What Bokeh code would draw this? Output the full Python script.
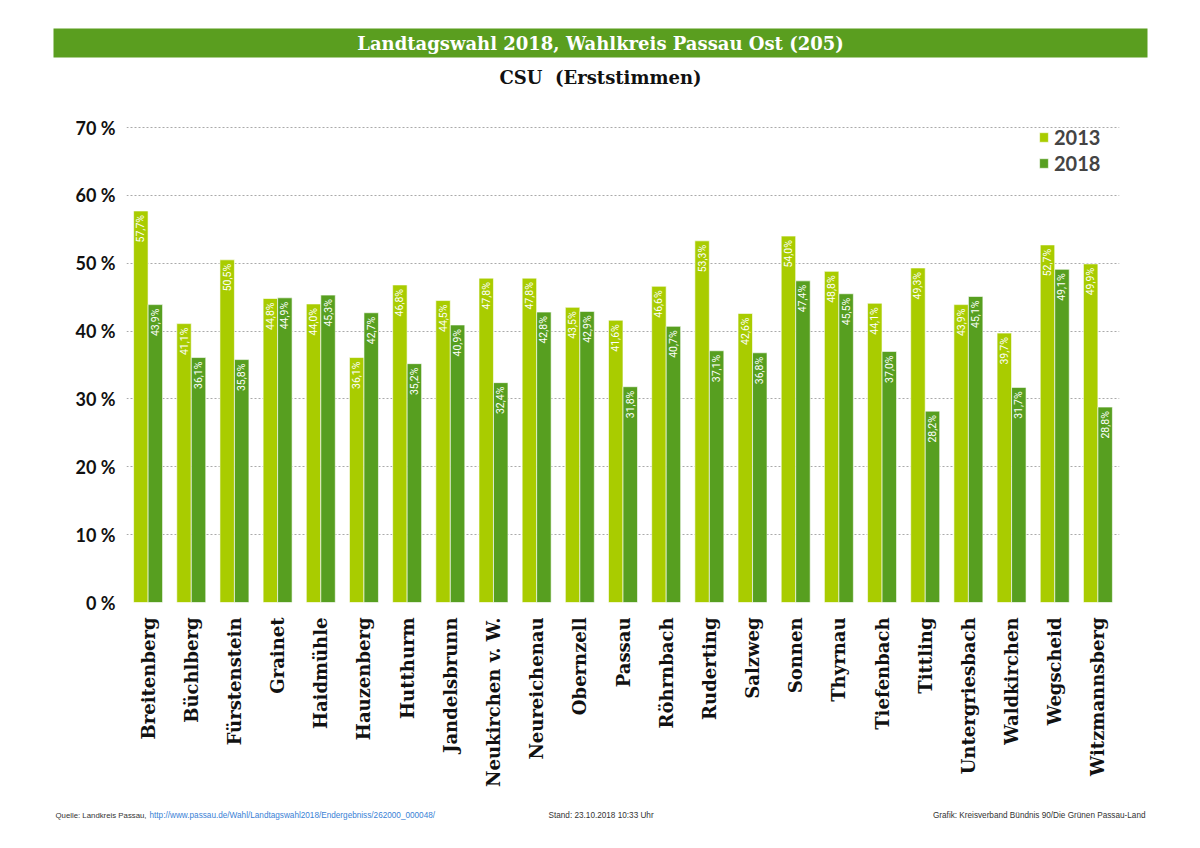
from math import pi
from bokeh.plotting import figure
from bokeh.layouts import column
from bokeh.models import (FactorRange, Range1d, FixedTicker, Legend, LegendItem, ColumnDataSource)
from bokeh.transform import dodge
from bokeh.core.properties import value
from bokeh.embed import file_html
from bokeh.resources import INLINE

places = ["Breitenberg", "Büchlberg", "Fürstenstein", "Grainet", "Haidmühle",
          "Hauzenberg", "Hutthurm", "Jandelsbrunn", "Neukirchen v. W.", "Neureichenau",
          "Obernzell", "Passau", "Röhrnbach", "Ruderting", "Salzweg", "Sonnen",
          "Thyrnau", "Tiefenbach", "Tittling", "Untergriesbach", "Waldkirchen",
          "Wegscheid", "Witzmannsberg"]
v2013 = [57.7, 41.1, 50.5, 44.8, 44.0, 36.1, 46.8, 44.5, 47.8, 47.8, 43.5, 41.6,
         46.6, 53.3, 42.6, 54.0, 48.8, 44.1, 49.3, 43.9, 39.7, 52.7, 49.9]
v2018 = [43.9, 36.1, 35.8, 44.9, 45.3, 42.7, 35.2, 40.9, 32.4, 42.8, 42.9, 31.8,
         40.7, 37.1, 36.8, 47.4, 45.5, 37.0, 28.2, 45.1, 31.7, 49.1, 28.8]
years = ["2013", "2018"]
y_ticks = [0, 10, 20, 30, 40, 50, 60, 70]
y_tick_labels = ["0 %", "10 %", "20 %", "30 %", "40 %", "50 %", "60 %", "70 %"]

title_text = "Landtagswahl 2018, Wahlkreis Passau Ost (205)"
subtitle_text = "CSU\u00a0 (Erststimmen)"
source_text = "Quelle: Landkreis Passau, "
source_link = "http://www.passau.de/Wahl/Landtagswahl2018/Endergebniss/262000_000048/"
stand_text = "Stand: 23.10.2018 10:33 Uhr"
credit_text = "Grafik: Kreisverband Bündnis 90/Die Grünen Passau-Land"

C13 = "#a9cc00"
C18 = "#579f20"
TITLE_BG = "#5a9e1f"
SANS = "Lato"
SERIF = "DejaVu Serif"
W = 1190


def fmt(v):
    return f"{v:.1f}".replace(".", ",") + "%"


def no_align(f):
    try:
        f.frame_align = False
    except Exception:
        pass


def blank(h, y0, y1):
    f = figure(width=W, height=h, x_range=Range1d(0, W), y_range=Range1d(y1, y0),
               output_backend="svg", toolbar_location=None, min_border=0)
    f.axis.visible = False
    f.grid.visible = False
    f.outline_line_color = None
    no_align(f)
    return f


# ---- header ----
head = blank(100, 0, 100)
head.quad(left=[53], right=[1147], top=[28], bottom=[57], fill_color=TITLE_BG, line_color=None)
head.text(x=[600], y=[43], text=[title_text], text_align="center", text_baseline="middle",
          text_color="white", text_font=value(SERIF), text_font_style="bold",
          text_font_size="18px")
head.text(x=[600], y=[77], text=[subtitle_text], text_align="center", text_baseline="middle",
          text_color="#111111", text_font=value(SERIF), text_font_style="bold",
          text_font_size="18px")

# ---- main chart ----
src = ColumnDataSource(dict(place=places, v13=v2013, v18=v2018,
                            l13=[fmt(v) for v in v2013], l18=[fmt(v) for v in v2018]))

p = figure(width=W, height=700, x_range=FactorRange(*places), y_range=Range1d(0, 70.15),
           output_backend="svg", toolbar_location=None,
           min_border_left=126, min_border_right=71, min_border_top=26, min_border_bottom=198)
p.outline_line_color = None
no_align(p)

r13 = p.vbar(x=dodge("place", -0.168, range=p.x_range), top="v13", width=0.335, source=src,
             fill_color=C13, line_color="white", line_alpha=0.6, line_width=1)
r18 = p.vbar(x=dodge("place", 0.168, range=p.x_range), top="v18", width=0.335, source=src,
             fill_color=C18, line_color="white", line_alpha=0.6, line_width=1)

for col, lab, off in (("v13", "l13", -0.168), ("v18", "l18", 0.168)):
    p.text(x=dodge("place", off, range=p.x_range), y=col, text=lab, source=src,
           angle=pi / 2, text_align="right", text_baseline="middle", y_offset=4,
           text_color="white", text_font=value("Roboto"), text_font_size="10.5px")

p.xgrid.grid_line_color = None
p.ygrid.ticker = FixedTicker(ticks=y_ticks)
p.ygrid.grid_line_color = "#aaaaaa"
p.ygrid.grid_line_dash = "2 2"
p.ygrid.grid_line_width = 1

p.yaxis.ticker = FixedTicker(ticks=y_ticks)
p.yaxis.major_label_overrides = {t: l for t, l in zip(y_ticks, y_tick_labels)}
p.yaxis.axis_line_color = None
p.yaxis.major_tick_line_color = None
p.yaxis.minor_tick_line_color = None
p.yaxis.major_label_standoff = 5
p.yaxis.major_label_text_font = SANS
p.yaxis.major_label_text_font_style = "bold"
p.yaxis.major_label_text_font_size = "18px"
p.yaxis.major_label_text_color = "#111111"

p.xaxis.axis_line_color = None
p.xaxis.major_tick_line_color = None
p.xaxis.major_label_orientation = pi / 2
p.xaxis.major_label_standoff = 9
p.xaxis.major_label_text_font = SERIF
p.xaxis.major_label_text_font_style = "bold"
p.xaxis.major_label_text_font_size = "18px"
p.xaxis.major_label_text_color = "#111111"

legend = Legend(items=[LegendItem(label=years[0], renderers=[r13]),
                       LegendItem(label=years[1], renderers=[r18])],
                location=(912, 427), border_line_color=None, background_fill_alpha=0,
                glyph_width=11, glyph_height=12, label_text_font=SANS,
                label_text_font_style="bold", label_text_font_size="20px",
                label_text_baseline="middle",
                label_standoff=5, spacing=2, padding=4, label_height=24)
p.add_layout(legend)

# ---- footer ----
foot = blank(40, 800, 840)
fk = dict(y=[815], text_baseline="middle", text_font=value("Liberation Sans"))
foot.text(x=[55], text=[source_text], text_align="left", text_color="#333333",
          text_font_size="7.8px", **fk)
foot.text(x=[149], text=[source_link], text_align="left", text_color="#3a7fd5",
          text_font_size="8.2px", **fk)
foot.text(x=[548], text=[stand_text], text_align="left", text_color="#333333",
          text_font_size="8.2px", **fk)
foot.text(x=[1145], text=[credit_text], text_align="right", text_color="#333333",
          text_font_size="8.2px", **fk)

layout = column(head, p, foot, spacing=0)
open("out.html", "w").write(file_html(layout, INLINE))
